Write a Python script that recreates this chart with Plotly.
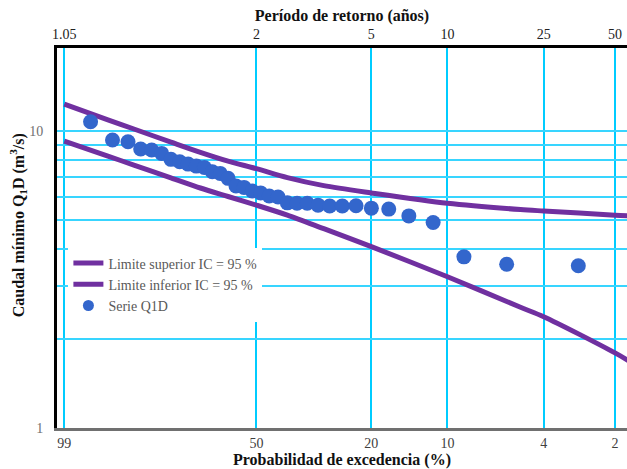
import numpy as np
import plotly.graph_objects as go

# ---------------- data ----------------
# Observed series (exceedance probability %, caudal m3/s)
serie_p = [97.14, 94.29, 91.43, 88.57, 85.71, 82.86, 80.00, 77.14, 74.29, 71.43,
           68.57, 65.71, 62.86, 60.00, 57.14, 54.29, 51.43, 48.57, 45.71, 42.86,
           40.00, 37.14, 34.29, 31.43, 28.57, 25.71, 22.86, 20.00, 17.14, 14.29,
           11.43, 8.57, 5.71, 2.86]
serie_q = [10.75, 9.33, 9.20, 8.70, 8.63, 8.41, 8.03, 7.88, 7.74, 7.62,
           7.54, 7.29, 7.20, 6.93, 6.53, 6.46, 6.28, 6.19, 6.04, 6.00,
           5.73, 5.71, 5.71, 5.63, 5.59, 5.59, 5.60, 5.50, 5.46, 5.18,
           4.92, 3.77, 3.56, 3.52]

# Confidence limits
lim_p = [99, 95, 90, 80, 70, 60, 50, 40, 30, 20, 10, 5, 4, 2, 1.6]
lim_sup = [12.33, 10.91, 10.14, 9.18, 8.48, 7.92, 7.47, 6.97, 6.55, 6.19, 5.71, 5.44, 5.38, 5.21, 5.17]
lim_inf = [9.25, 8.24, 7.66, 6.96, 6.43, 6.02, 5.63, 5.21, 4.69, 4.08, 3.23, 2.55, 2.37, 1.79, 1.61]

# Axis ticks
prob_ticks = [99, 50, 20, 10, 4, 2]
prob_labels = ["99", "50", "20", "10", "4", "2"]
tr_labels = ["1.05", "2", "5", "10", "25", "50"]
y_ticks = [1, 2, 3, 4, 5, 6, 7, 8, 9, 10, 20]
y_labels = ["1", "", "", "", "", "", "", "", "", "10", ""]


def gumbel(p):
    """Gumbel reduced variate for exceedance probability p (%), T = 100/p."""
    p = np.asarray(p, dtype=float) / 100.0
    F = 1.0 - p
    return -np.log(-np.log(F))


PURPLE = "#7030A0"
BLUE = "#3366CC"
FONT = "Liberation Serif"

fig = go.Figure()
fig.add_trace(go.Scatter(x=gumbel(lim_p), y=lim_sup, mode="lines",
                         name="Limite superior IC = 95 %", legendgroup="a",
                         line=dict(color=PURPLE, width=5, shape="spline", smoothing=0.8),
                         hoverinfo="skip"))
fig.add_trace(go.Scatter(x=gumbel(lim_p), y=lim_inf, mode="lines",
                         name="Limite inferior IC = 95 %", legendgroup="b",
                         line=dict(color=PURPLE, width=5, shape="spline", smoothing=0.8),
                         hoverinfo="skip"))
fig.add_trace(go.Scatter(x=gumbel(serie_p), y=serie_q, mode="markers",
                         name="Serie Q1D", legendgroup="c", showlegend=False,
                         marker=dict(color=BLUE, size=15, line=dict(width=0))))
# legend-only entry with the smaller legend dot
fig.add_trace(go.Scatter(x=[None], y=[None], mode="markers",
                         name="Serie Q1D", legendgroup="c",
                         marker=dict(color=BLUE, size=11, line=dict(width=0))))
# invisible trace so the top (return-period) axis is drawn
fig.add_trace(go.Scatter(x=[None], y=[None], xaxis="x2", yaxis="y",
                         mode="markers", showlegend=False, hoverinfo="skip"))

xr = [-1.599, 4.02]
fig.update_layout(
    width=627, height=469,
    margin=dict(l=57, r=0, t=48, b=41),
    paper_bgcolor="white", plot_bgcolor="white",
    font=dict(family=FONT, size=14, color="#404040"),
    showlegend=True,
    legend=dict(x=0.02, y=0.475, xanchor="left", yanchor="top",
                bgcolor="white", borderwidth=0, tracegroupgap=0,
                itemwidth=30,
                font=dict(family=FONT, size=14, color="#595959"),
                traceorder="grouped"),
    xaxis=dict(range=xr, tickvals=list(gumbel(prob_ticks)), ticktext=prob_labels,
               showgrid=True, gridcolor="#00CCFF", gridwidth=1.5, zeroline=False,
               showline=True, linecolor="#707070", linewidth=3,
               ticks="", tickfont=dict(family=FONT, size=14, color="#404040"),
               title=dict(text="<b>Probabilidad de excedencia (%)</b>",
                          font=dict(family=FONT, size=16, color="#111111"), standoff=4)),
    xaxis2=dict(range=xr, tickvals=list(gumbel(prob_ticks)), ticktext=tr_labels,
                overlaying="x", side="top", anchor="y",
                showgrid=False, zeroline=False, showline=True,
                linecolor="black", linewidth=3, ticks="",
                tickfont=dict(family=FONT, size=14, color="#222222"),
                title=dict(text="<b>Período de retorno (años)</b>",
                           font=dict(family=FONT, size=16, color="#111111"), standoff=2)),
    yaxis=dict(type="log", range=[0, np.log10(19.04)], tickvals=y_ticks, ticktext=y_labels,
               showgrid=True, gridcolor="#38D5FF", gridwidth=2, zeroline=False,
               showline=True, linecolor="black", linewidth=3, ticks="",
               ticklabelstandoff=8,
               tickfont=dict(family=FONT, size=14, color="#707070")),
    annotations=[dict(text="<b>Caudal mínimo Q<sub>1</sub>D (m<sup>3</sup>/s)</b>",
                      xref="paper", yref="paper", x=-0.068, y=0.534,
                      xanchor="center", yanchor="middle", textangle=-90,
                      showarrow=False,
                      font=dict(family=FONT, size=16, color="#111111"))],
)

fig.write_html("out.html", config={"displayModeBar": False},
               post_script="document.body.style.margin='0';document.body.style.padding='0';")
